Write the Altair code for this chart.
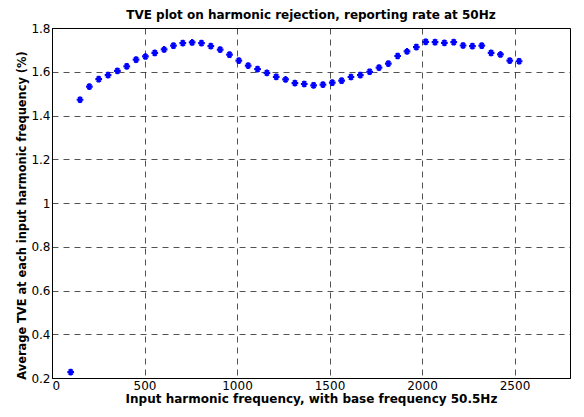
import altair as alt
import pandas as pd

base_freq = 50.5
harmonics = list(range(2, 51))
tve = [0.227, 1.472, 1.532, 1.566, 1.585, 1.604, 1.625, 1.655, 1.670, 1.686,
       1.702, 1.719, 1.731, 1.734, 1.731, 1.717, 1.701, 1.678, 1.651, 1.628,
       1.612, 1.595, 1.577, 1.565, 1.548, 1.544, 1.538, 1.541, 1.550, 1.559,
       1.576, 1.585, 1.600, 1.619, 1.637, 1.672, 1.693, 1.713, 1.737, 1.735,
       1.732, 1.735, 1.720, 1.717, 1.719, 1.686, 1.679, 1.651, 1.648]
x_ticks = [0, 500, 1000, 1500, 2000, 2500]
y_ticks = [0.2, 0.4, 0.6, 0.8, 1.0, 1.2, 1.4, 1.6, 1.8]

df = pd.DataFrame({"freq": [h * base_freq for h in harmonics], "tve": tve})

FONT = "DejaVu Sans"
asterisk = "M-1,0L1,0M-0.5,-0.866L0.5,0.866M-0.5,0.866L0.5,-0.866M0,-1L0,1"

chart = alt.Chart(df).mark_point(
    shape=asterisk, filled=False, color="#0000ff", strokeWidth=2.2, size=45, opacity=1
).encode(
    x=alt.X("freq:Q",
            scale=alt.Scale(domain=[0, 2800], nice=False, zero=False),
            axis=alt.Axis(values=x_ticks, format="d",
                          title="Input harmonic frequency, with base frequency 50.5Hz",
                          labelPadding=2, titlePadding=2)),
    y=alt.Y("tve:Q",
            scale=alt.Scale(domain=[0.2, 1.8], nice=False, zero=False),
            axis=alt.Axis(values=y_ticks, format=".1~f",
                          title="Average TVE at each input harmonic frequency (%)",
                          titleFontSize=11.4, titleY=187,
                          labelPadding=2, titlePadding=3)),
).properties(
    width=518, height=350,
    autosize=alt.AutoSizeParams(type="none"),
    padding={"left": 44, "top": 20, "right": 6, "bottom": 31},
    title=alt.TitleParams("TVE plot on harmonic rejection, reporting rate at 50Hz",
                          font=FONT, fontSize=12, fontWeight="bold", color="black",
                          anchor="middle", offset=0),
).configure(
    background="white"
).configure_view(
    stroke="black", strokeWidth=1
).configure_axis(
    grid=True, gridColor="black", gridDash=[6, 5], gridWidth=0.8, gridOpacity=0.85,
    domain=True, domainColor="black", domainWidth=1,
    ticks=False,
    labelFont=FONT, labelFontSize=12, labelColor="black",
    titleFont=FONT, titleFontSize=12, titleFontWeight="bold", titleColor="black",
)

chart.save("out.html", embed_options={"renderer": "svg", "actions": False})
